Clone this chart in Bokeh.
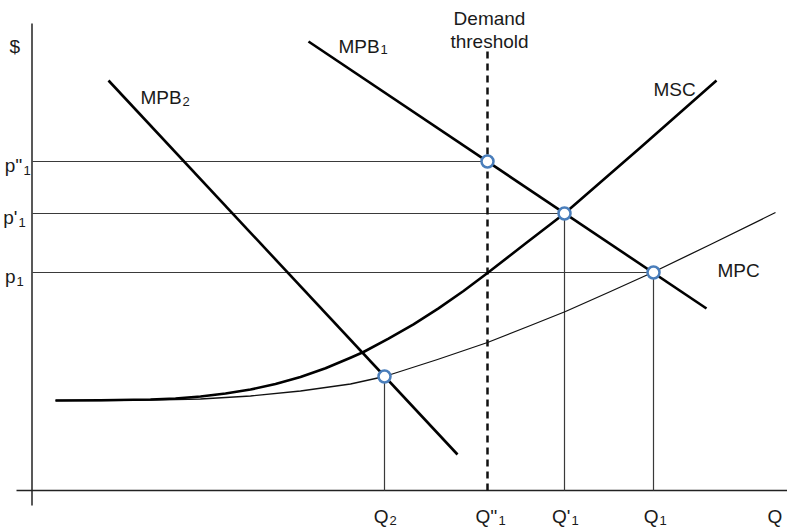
from bokeh.plotting import figure
from bokeh.models import Range1d
from bokeh.core.properties import value
from bokeh.embed import file_html
from bokeh.resources import INLINE

# ---------------- data (Q on x, $ on y) ----------------
# demand curves (straight lines, end points)
mpb1_q = [276, 674]
mpb1_p = [449, 182]
mpb2_q = [76, 425]
mpb2_p = [410, 36]

# marginal social cost (thick curve)
msc_q = [23, 68, 118, 143, 168, 193, 218, 243, 268, 293, 318, 331, 356, 381, 406, 431,
         455, 493, 532, 608, 684]
msc_p = [90, 90.2, 91, 92, 94, 97, 101, 106.4, 113.4, 122.2, 132.7, 138.5, 151.8, 166.2,
         182.1, 199.5, 217.5, 247, 277, 343, 410]

# marginal private cost (thin curve)
mpc_q = [23, 68, 118, 168, 218, 268, 318, 352, 405, 455, 498, 533, 578, 620, 678, 743]
mpc_p = [90, 90, 90.3, 91.5, 94.5, 99.5, 106.5, 114, 131, 148, 165, 179, 199, 218, 246, 278]

# equilibrium points: Q''1, Q'1, Q1, Q2
eq_q = [455, 532, 621, 352]
eq_p = [329, 277, 218, 114]

# demand threshold
threshold_q = 455
threshold_top = 440

# tick labels
price_main = ["p''", "p'", "p"]
price_sub = ["1", "1", "1"]
price_levels = [329, 277, 218]

qty_main = ["Q", "Q''", "Q'", "Q"]
qty_sub = ["2", "1", "1", "1"]

# ---------------- figure ----------------
p = figure(width=787, height=527, output_backend="svg", toolbar_location=None,
           x_range=Range1d(-32, 755), y_range=Range1d(-37, 490),
           x_axis_location=None, y_axis_location=None, min_border=0)
p.grid.visible = False
p.outline_line_color = None
p.background_fill_color = "white"
p.border_fill_color = "white"

FONT = value("Liberation Sans")
TXT = "#1a1a1a"
GUIDE = "#3a3a3a"

# axes drawn as lines
p.segment(x0=[-0.5, -16], y0=[467, 0], x1=[-0.5, 755], y1=[-15, 0],
          line_color="#222222", line_width=1.5)

# horizontal guide lines from the $ axis to the points
p.segment(x0=[0] * 3, y0=eq_p[:3], x1=eq_q[:3], y1=eq_p[:3],
          line_color=GUIDE, line_width=1.2)
# vertical guide lines down to the Q axis
p.segment(x0=eq_q[1:], y0=[0] * 3, x1=eq_q[1:], y1=eq_p[1:],
          line_color=GUIDE, line_width=1.2)

# demand threshold (dashed)
p.segment(x0=[threshold_q], y0=[0], x1=[threshold_q], y1=[threshold_top],
          line_color="#111111", line_width=2.5, line_dash="7 5")

# curves
p.line(mpc_q, mpc_p, line_color="#111111", line_width=1.3, line_join="round")
p.line(msc_q, msc_p, line_color="#000000", line_width=2.6, line_join="round")
p.line(mpb1_q, mpb1_p, line_color="#000000", line_width=2.6)
p.line(mpb2_q, mpb2_p, line_color="#000000", line_width=2.6)

# equilibrium markers
p.scatter(eq_q, eq_p, marker="circle", size=12, fill_color="white",
          line_color="#4a7ebb", line_width=2.5)

MAIN = "19px"
SUB = "13px"

def label(x, y, t, size=MAIN, align="left"):
    p.text(x=[x], y=[y], text=[t], text_font=FONT, text_font_size=size,
           text_color=TXT, text_align=align, text_baseline="alphabetic")

# axis titles
label(-23, 444, "$")
label(742.5, -26, "Q", align="center")

# price tick labels
price_right = [-10, -15, -17]
for m, s, lv, xr in zip(price_main, price_sub, price_levels, price_right):
    label(xr, lv - 4, m, align="right")
    label(xr + 1, lv - 9, s, size=SUB)

# quantity tick labels (Q2, Q''1, Q'1, Q1)
qty_right = [356, 465, 538, 626]
for m, s, xr in zip(qty_main, qty_sub, qty_right):
    label(xr, -26, m, align="right")
    label(xr + 1, -30, s, size=SUB)

# curve labels
label(306, 444, "MPB")
label(348, 441, "1", size=SUB)
label(108, 393, "MPB")
label(150, 389, "2", size=SUB)
label(621, 401, "MSC")
label(685, 220, "MPC")
label(457, 472, "Demand", align="center")
label(457, 449, "threshold", align="center")

open("out.html", "w").write(file_html(p, INLINE))
